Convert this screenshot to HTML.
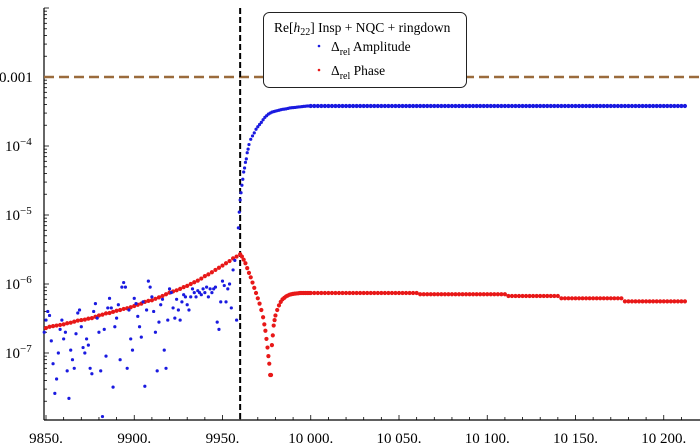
<!DOCTYPE html>
<html><head><meta charset="utf-8"><style>
html,body{margin:0;padding:0;background:#fff;}
svg{display:block;font-family:"Liberation Serif",serif;}
</style></head><body>
<svg id="chart" width="700" height="448" viewBox="0 0 700 448" xmlns="http://www.w3.org/2000/svg">
<g id="axes"></g>
<g id="refline"></g>
<g id="marks"></g>
<g id="legend">
 <rect x="263.5" y="12.5" width="203" height="75" rx="6" fill="#fff" stroke="#222" stroke-width="1"/>
 <text x="274" y="32" font-size="13.5">Re[<tspan font-style="italic">h</tspan><tspan font-size="10" dy="3">22</tspan><tspan dy="-3">]  Insp + NQC + ringdown</tspan></text>
 <circle cx="319" cy="46" r="1.3" fill="#1a1ae0"/>
 <text x="331" y="51" font-size="13.5">Δ<tspan font-size="10" dy="4">rel</tspan><tspan dy="-4"> Amplitude</tspan></text>
 <circle cx="319" cy="70" r="1.3" fill="#e81818"/>
 <text x="331" y="75" font-size="13.5">Δ<tspan font-size="10" dy="4">rel</tspan><tspan dy="-4"> Phase</tspan></text>
</g>
</svg>
<script>
const xTicks=[9850,9900,9950,10000,10050,10100,10150,10200];
const xTickLabels=["9850.","9900.","9950.","10 000.","10 050.","10 100.","10 150.","10 200."];
const yTicks=[1e-3,1e-4,1e-5,1e-6,1e-7];
const yTickLabels=["0.001","10","10","10","10"];
const yTickExps=["","−4","−5","−6","−7"];
const threshold=1e-3;
const mergerTime=9960;

const ampX=[9849,9850,9851,9852,9853,9854,9855,9856,9857,9858,9859,9860,9861,9862,9863,9864,9865,9866,9867,9868,9869,9870,9871,9872,9873,9874,9875,9876,9877,9878,9879,9880,9881,9882,9883,9884,9885,9886,9887,9888,9889,9890,9891,9892,9893,9894,9895,9896,9897,9898,9899,9900,9901,9902,9903,9904,9905,9906,9907,9908,9909,9910,9911,9912,9913,9914,9915,9916,9917,9918,9919,9920,9921,9922,9923,9924,9925,9926,9927,9928,9929,9930,9931,9932,9933,9934,9935,9936,9937,9938,9939,9940,9941,9942,9943,9944,9945,9946,9947,9948,9949,9950,9951,9952,9953,9954,9955,9956,9957,9958,
9959,9959.5,9960,9960.5,9961,9961.5,9962,9962.5,9963,9963.5,9964,9964.5,9965,9966,9967,9968,9969,9970,9971,9972,9973,9974,9975,9976,9977,9978,9979,9980,9981,9982,9983,9984,9985,9986,9987,9988,9989,9990,9991,9992,9993,9994,9995,9996,9997,9998,9999];
const ampY=[2.0e-7,3.0e-7,4.0e-7,3.5e-7,1.5e-7,7e-8,2.6e-8,4.2e-8,1.0e-7,2.2e-7,3.0e-7,1.6e-7,2.0e-7,5.5e-8,2.2e-8,1.1e-7,8e-8,6e-8,1.9e-7,3.8e-7,4.2e-7,2.4e-7,1.2e-7,1.0e-7,1.6e-7,1.3e-7,6e-8,5e-8,4.0e-7,5.2e-7,3.2e-7,2.0e-7,5.5e-8,1.2e-8,2.2e-7,9e-8,4.5e-7,6.2e-7,4.5e-7,3.2e-8,2.4e-7,3.2e-7,5e-7,8e-8,9e-7,1.05e-6,9e-7,6e-8,4.2e-7,1.6e-7,1.1e-7,6.2e-7,5.2e-7,3.4e-7,2.4e-7,1.7e-7,5.5e-7,3.3e-8,4.2e-7,1.1e-6,9e-7,6.5e-7,4.0e-7,2e-7,5.5e-8,2.8e-7,5e-7,6e-7,1.1e-7,6e-8,3.0e-7,8.5e-7,7.5e-7,4.5e-7,3.2e-7,6.0e-7,4.2e-7,3.0e-7,5.5e-7,7.0e-7,6.5e-7,5.0e-7,4.2e-7,6.5e-7,8.5e-7,7.5e-7,6.5e-7,8.0e-7,7.5e-7,7.0e-7,8.5e-7,7.5e-7,9e-7,6.5e-7,8.5e-7,7.5e-7,8.5e-7,9e-7,2.8e-7,2.2e-7,5.5e-7,1.1e-6,9.5e-7,5.5e-7,8.5e-7,1.0e-6,4.5e-7,1.6e-6,2.2e-6,3e-7,
6.5e-6,1.1e-5,1.65e-5,2.1e-5,2.7e-5,3.3e-5,4.2e-5,4.8e-5,5.8e-5,6.5e-5,8e-5,9e-5,1.05e-4,1.25e-4,1.4e-4,1.55e-4,1.75e-4,1.9e-4,2.05e-4,2.2e-4,2.4e-4,2.6e-4,2.75e-4,2.9e-4,3.0e-4,3.1e-4,3.15e-4,3.2e-4,3.25e-4,3.3e-4,3.35e-4,3.4e-4,3.42e-4,3.45e-4,3.5e-4,3.55e-4,3.58e-4,3.6e-4,3.62e-4,3.65e-4,3.68e-4,3.7e-4,3.72e-4,3.75e-4,3.77e-4,3.8e-4,3.8e-4];

const phaseX=[9850,9852,9854,9856,9858,9860,9862,9864,9866,9868,9870,9872,9874,9876,9878,9880,9882,9884,9886,9888,9890,9892,9894,9896,9898,9900,9902,9904,9906,9908,9910,9912,9914,9916,9918,9920,9922,9924,9926,9928,9930,9932,9934,9936,9938,9940,9942,9944,9946,9948,9950,9952,9954,9956,9958,9960,
9961,9962,9963,9964,9965,9966,9967,9968,9969,9970,9971,9972,9973,9973.7,9974.3,9974.9,9975.5,9976,9976.5,9977,9977.5,9978,9978.5,9979,9979.5,9980,9981,9982,9983,9984,9985,9986,9987,9988,9989,9990,9991,9992,9993,9994,9995,9996,9997,9998,9999];
const phaseY=[2.3e-7,2.4e-7,2.45e-7,2.5e-7,2.55e-7,2.6e-7,2.7e-7,2.75e-7,2.85e-7,2.95e-7,3.0e-7,3.05e-7,3.15e-7,3.2e-7,3.35e-7,3.5e-7,3.6e-7,3.75e-7,3.8e-7,3.95e-7,4.1e-7,4.2e-7,4.35e-7,4.45e-7,4.6e-7,4.8e-7,5.0e-7,5.2e-7,5.5e-7,5.7e-7,5.8e-7,6.1e-7,6.4e-7,6.7e-7,7.1e-7,7.5e-7,7.8e-7,8.1e-7,8.5e-7,9.0e-7,9.4e-7,1.0e-6,1.06e-6,1.12e-6,1.2e-6,1.3e-6,1.38e-6,1.48e-6,1.6e-6,1.72e-6,1.85e-6,2.0e-6,2.15e-6,2.35e-6,2.5e-6,2.7e-6,
2.5e-6,2.25e-6,2.0e-6,1.7e-6,1.45e-6,1.25e-6,1.05e-6,8.8e-7,7.4e-7,6.2e-7,5.2e-7,4.2e-7,3.3e-7,2.6e-7,2.1e-7,1.6e-7,1.2e-7,9e-8,7e-8,4.8e-8,4.8e-8,1.3e-7,1.8e-7,2.5e-7,3.0e-7,3.5e-7,4.2e-7,4.9e-7,5.5e-7,6.0e-7,6.3e-7,6.6e-7,6.8e-7,7.0e-7,7.1e-7,7.2e-7,7.25e-7,7.3e-7,7.35e-7,7.4e-7,7.4e-7,7.4e-7,7.4e-7,7.4e-7,7.4e-7];

const tailX=[10000,10002,10004,10006,10008,10010,10012,10014,10016,10018,10020,10022,10024,10026,10028,10030,10032,10034,10036,10038,10040,10042,10044,10046,10048,10050,10052,10054,10056,10058,10060,10062,10064,10066,10068,10070,10072,10074,10076,10078,10080,10082,10084,10086,10088,10090,10092,10094,10096,10098,10100,10102,10104,10106,10108,10110,10112,10114,10116,10118,10120,10122,10124,10126,10128,10130,10132,10134,10136,10138,10140,10142,10144,10146,10148,10150,10152,10154,10156,10158,10160,10162,10164,10166,10168,10170,10172,10174,10176,10178,10180,10182,10184,10186,10188,10190,10192,10194,10196,10198,10200,10202,10204,10206,10208,10210,10212];
const tailAmpY=[3.8e-4,3.8e-4,3.8e-4,3.8e-4,3.8e-4,3.8e-4,3.8e-4,3.8e-4,3.8e-4,3.8e-4,3.8e-4,3.8e-4,3.8e-4,3.8e-4,3.8e-4,3.8e-4,3.8e-4,3.8e-4,3.8e-4,3.8e-4,3.8e-4,3.8e-4,3.8e-4,3.8e-4,3.8e-4,3.8e-4,3.8e-4,3.8e-4,3.8e-4,3.8e-4,3.8e-4,3.8e-4,3.8e-4,3.8e-4,3.8e-4,3.8e-4,3.8e-4,3.8e-4,3.8e-4,3.8e-4,3.8e-4,3.8e-4,3.8e-4,3.8e-4,3.8e-4,3.8e-4,3.8e-4,3.8e-4,3.8e-4,3.8e-4,3.8e-4,3.8e-4,3.8e-4,3.8e-4,3.8e-4,3.8e-4,3.8e-4,3.8e-4,3.8e-4,3.8e-4,3.8e-4,3.8e-4,3.8e-4,3.8e-4,3.8e-4,3.8e-4,3.8e-4,3.8e-4,3.8e-4,3.8e-4,3.8e-4,3.8e-4,3.8e-4,3.8e-4,3.8e-4,3.8e-4,3.8e-4,3.8e-4,3.8e-4,3.8e-4,3.8e-4,3.8e-4,3.8e-4,3.8e-4,3.8e-4,3.8e-4,3.8e-4,3.8e-4,3.8e-4,3.8e-4,3.8e-4,3.8e-4,3.8e-4,3.8e-4,3.8e-4,3.8e-4,3.8e-4,3.8e-4,3.8e-4,3.8e-4,3.8e-4,3.8e-4,3.8e-4,3.8e-4,3.8e-4,3.8e-4,3.8e-4];
const tailPhaseY=[7.4e-7,7.4e-7,7.4e-7,7.4e-7,7.4e-7,7.4e-7,7.4e-7,7.4e-7,7.4e-7,7.4e-7,7.4e-7,7.4e-7,7.4e-7,7.4e-7,7.4e-7,7.4e-7,7.4e-7,7.4e-7,7.4e-7,7.4e-7,7.4e-7,7.4e-7,7.4e-7,7.4e-7,7.4e-7,7.4e-7,7.4e-7,7.4e-7,7.4e-7,7.4e-7,7.4e-7,
7.1e-7,7.1e-7,7.1e-7,7.1e-7,7.1e-7,7.1e-7,7.1e-7,7.1e-7,7.1e-7,7.1e-7,7.1e-7,7.1e-7,7.1e-7,7.1e-7,7.1e-7,7.1e-7,7.1e-7,7.1e-7,7.1e-7,7.1e-7,7.1e-7,7.1e-7,7.1e-7,7.1e-7,7.1e-7,
6.7e-7,6.7e-7,6.7e-7,6.7e-7,6.7e-7,6.7e-7,6.7e-7,6.7e-7,6.7e-7,6.7e-7,6.7e-7,6.7e-7,6.7e-7,6.7e-7,6.7e-7,
6.2e-7,6.2e-7,6.2e-7,6.2e-7,6.2e-7,6.2e-7,6.2e-7,6.2e-7,6.2e-7,6.2e-7,6.2e-7,6.2e-7,6.2e-7,6.2e-7,6.2e-7,6.2e-7,6.2e-7,6.2e-7,
5.6e-7,5.6e-7,5.6e-7,5.6e-7,5.6e-7,5.6e-7,5.6e-7,5.6e-7,5.6e-7,5.6e-7,5.6e-7,5.6e-7,5.6e-7,5.6e-7,5.6e-7,5.6e-7,5.6e-7,5.6e-7];

const NS='http://www.w3.org/2000/svg';
const X0=46, PXU=1.765, Y6=284, PXD=69, AXL=44, AXB=420;
function xs(v){return X0+(v-9850)*PXU;}
function ys(v){return Y6-PXD*(Math.log10(v)+6);}
function mk(tag,attrs,parent){const e=document.createElementNS(NS,tag);for(const k in attrs)e.setAttribute(k,attrs[k]);parent.appendChild(e);return e;}

const axes=document.getElementById('axes');
const xa=mk('line',{x1:AXL,y1:AXB,x2:700,y2:AXB,stroke:'#000','stroke-width':1.2},axes);


const ya=mk('line',{x1:AXL,y1:8,x2:AXL,y2:AXB,stroke:'#000','stroke-width':1.2},axes);


for(let v=9850;v<=10210;v+=10){
  const major=(v%50===0);
  const t=mk('line',{x1:xs(v),y1:AXB,x2:xs(v),y2:AXB-(major?5:3),stroke:'#000','stroke-width':0.8},axes);
  
  
}
xTicks.forEach((v,i)=>{
  const t=mk('text',{x:xs(v),y:443,'font-size':15,'text-anchor':'middle'},axes);
  t.textContent=xTickLabels[i];
  
  
});
for(let d=-8;d<=-2;d++){
  for(let m=1;m<=9;m++){
    const v=m*Math.pow(10,d);const y=ys(v);
    if(y<8||y>AXB)continue;
    const t=mk('line',{x1:AXL,y1:y,x2:AXL+(m===1?5:3),y2:y,stroke:'#000','stroke-width':0.8},axes);
    
    
  }
}
yTicks.forEach((v,i)=>{
  const t=mk('text',{x:5,y:ys(v)+5,'font-size':15,'text-anchor':'start'},axes);
  t.textContent=yTickLabels[i];
  if(yTickExps[i]){const s=mk('tspan',{'font-size':11,dy:-6},t);s.textContent=yTickExps[i];}
  else{t.setAttribute('x',-1);}
  
  
});

const rl=document.getElementById('refline');
const th=mk('line',{x1:AXL,y1:ys(threshold),x2:700,y2:ys(threshold),stroke:'#9a6b3c','stroke-width':2.5,'stroke-dasharray':'10,5'},rl);


const mv=mk('line',{x1:xs(mergerTime),y1:8,x2:xs(mergerTime),y2:AXB,stroke:'#000','stroke-width':2,'stroke-dasharray':'6,3'},rl);



const marks=document.getElementById('marks');
function drawSeries(X,Y,color,r,name){
  X.forEach((v,i)=>{
    const c=mk('circle',{cx:xs(v).toFixed(2),cy:ys(Y[i]).toFixed(2),r:r,fill:color},marks);
    
    
  });
}
drawSeries(phaseX,phaseY,'#e81818',2.1,'phase-point');
drawSeries(tailX,tailPhaseY,'#e81818',2.1,'phase-point');
drawSeries(ampX,ampY,'#1a1ae0',1.6,'amplitude-point');
drawSeries(tailX,tailAmpY,'#1a1ae0',2.1,'amplitude-point');
</script>
</body></html>
